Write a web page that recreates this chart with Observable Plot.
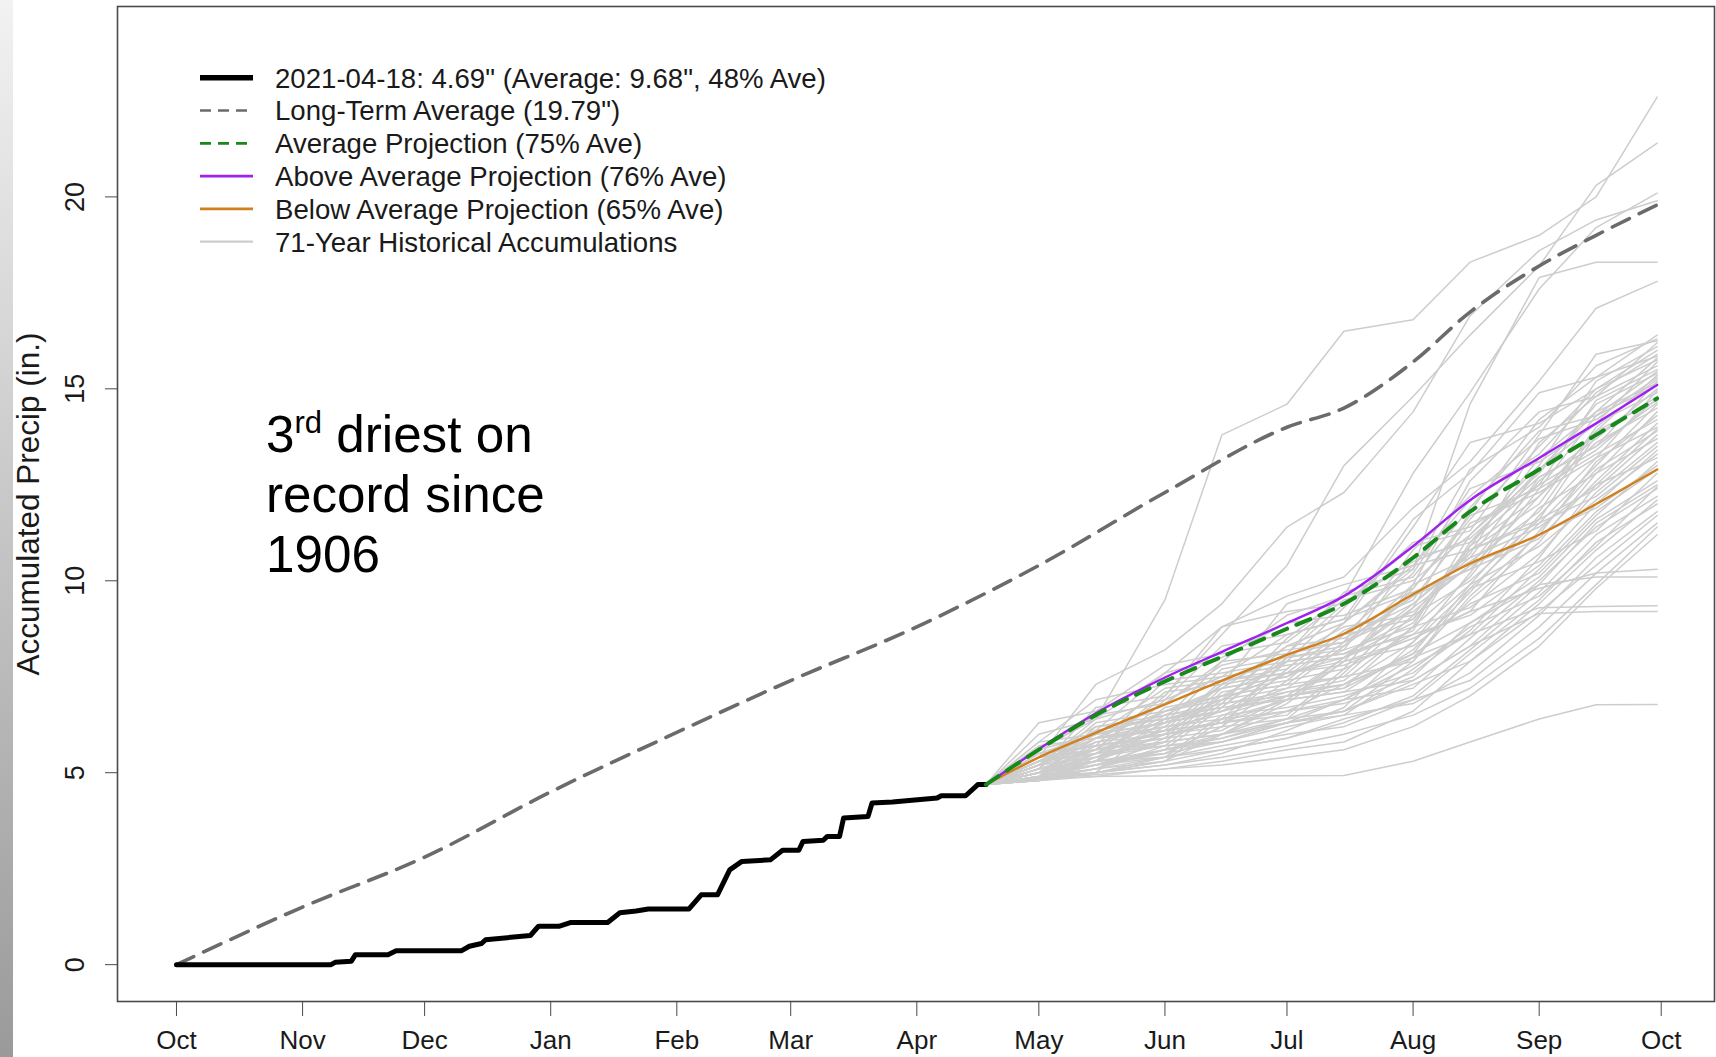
<!DOCTYPE html>
<html><head><meta charset="utf-8">
<script src="https://cdn.jsdelivr.net/npm/d3@7"></script>
<script src="https://cdn.jsdelivr.net/npm/@observablehq/plot@0.6"></script>
<style>
body{margin:0;background:#fff;}
#wrap{position:relative;width:1716px;height:1057px;overflow:hidden;background:#fff;}
#chart{position:absolute;left:0;top:0;}
#strip{position:absolute;left:0;top:0;width:13px;height:1057px;background:linear-gradient(to bottom,#f2f2f2,#9a9a9a);}
</style></head><body>
<div id="wrap"><div id="chart"></div><div id="strip"></div></div>
<script>
// ---------- data ----------
const monthTicks = ["2020-10-01","2020-11-01","2020-12-01","2021-01-01","2021-02-01","2021-03-01","2021-04-01","2021-05-01","2021-06-01","2021-07-01","2021-08-01","2021-09-01","2021-10-01"];
const monthLabels = ["Oct","Nov","Dec","Jan","Feb","Mar","Apr","May","Jun","Jul","Aug","Sep","Oct"];
const yTicks = [0,5,10,15,20];

// current water year (2020-10-01 .. 2021-04-18)
const currentDates = ["2020-10-01","2020-11-08","2020-11-09","2020-11-13","2020-11-14","2020-11-22","2020-11-24","2020-12-10","2020-12-12","2020-12-15","2020-12-16","2020-12-27","2020-12-29","2021-01-03","2021-01-06","2021-01-15","2021-01-18","2021-01-22","2021-01-25","2021-02-04","2021-02-07","2021-02-11","2021-02-14","2021-02-17","2021-02-24","2021-02-27","2021-03-03","2021-03-04","2021-03-09","2021-03-10","2021-03-13","2021-03-14","2021-03-20","2021-03-21","2021-03-26","2021-04-06","2021-04-07","2021-04-13","2021-04-16","2021-04-18"];
const currentValues = [0,0,0.06,0.09,0.26,0.26,0.36,0.36,0.48,0.55,0.65,0.76,1.0,1.0,1.1,1.1,1.35,1.4,1.45,1.45,1.82,1.82,2.47,2.69,2.73,2.98,2.98,3.21,3.24,3.34,3.34,3.82,3.86,4.21,4.24,4.34,4.40,4.40,4.69,4.69];

// long-term average
const avgDates = ["2020-10-01","2020-11-01","2020-12-01","2021-01-01","2021-02-01","2021-03-01","2021-04-01","2021-04-18","2021-05-01","2021-06-01","2021-07-01","2021-07-15","2021-08-01","2021-08-15","2021-09-01","2021-09-15","2021-09-30"];
const avgValues = [0,1.5,2.8,4.5,6.05,7.4,8.8,9.68,10.4,12.3,14.0,14.5,15.7,17.0,18.2,19.0,19.79];

// projections from 2021-04-18
const projDates = ["2021-04-18","2021-05-01","2021-05-15","2021-06-01","2021-06-15","2021-07-01","2021-07-15","2021-08-01","2021-08-15","2021-09-01","2021-09-15","2021-09-30"];
const aboveValues   = [4.69,5.62,6.55,7.48,8.15,8.9,9.6,10.9,12.1,13.2,14.1,15.1];
const avgProjValues = [4.69,5.60,6.50,7.38,8.02,8.75,9.4,10.6,11.8,12.9,13.8,14.75];
const belowValues   = [4.69,5.40,6.04,6.78,7.40,8.07,8.62,9.65,10.45,11.2,12.0,12.9];

// 71 historical accumulations, starting from today's value
const historicalStart = 4.69;
const historicalDates = ["2021-05-01","2021-05-15","2021-06-01","2021-06-15","2021-07-01","2021-07-15","2021-08-01","2021-08-15","2021-09-01","2021-09-15","2021-09-30"];
const historicalValues = [
[5.6,6.4,9.5,13.8,14.6,16.5,16.8,18.3,19.0,20.0,22.6],
[5.1,5.6,7.0,8.6,10.4,13.0,14.8,16.4,18.2,20.3,21.4],
[5.0,5.9,6.8,7.9,9.1,9.6,12.8,14.9,17.6,19.2,20.1],
[5.4,7.3,8.2,9.4,11.4,12.3,14.4,16.9,18.6,19.4,19.9],
[4.9,5.5,6.5,7.2,8.3,8.9,10.3,14.6,17.9,18.3,18.3],
[5.2,6.1,7.6,8.8,9.6,10.1,11.9,13.1,15.2,17.1,17.8],
[5.8,6.9,7.3,7.5,8.6,9.0,11.6,12.8,14.9,15.3,16.4],
[4.8,5.0,6.4,7.9,8.1,9.7,10.3,12.9,14.0,15.6,16.3],
[5.1,6.7,7.0,8.8,9.2,9.4,10.9,11.3,13.8,15.9,16.25],
[4.9,5.3,5.5,6.2,8.0,8.3,9.9,12.6,14.4,14.8,16.2],
[6.3,6.6,7.8,8.1,8.4,9.5,10.0,11.2,13.0,15.2,16.1],
[5.0,5.9,6.1,7.4,7.7,8.9,11.4,13.6,14.1,15.0,16.0],
[5.4,5.6,7.1,7.3,9.4,9.9,10.4,12.1,13.3,14.9,15.9],
[4.8,5.4,6.0,6.3,6.9,8.0,9.3,11.8,14.2,15.3,15.85],
[5.5,6.0,6.3,7.7,8.0,8.2,10.6,11.0,12.9,14.4,15.8],
[5.2,6.4,7.6,8.0,8.9,9.1,9.8,11.6,13.5,15.0,15.75],
[4.9,5.1,5.9,7.2,7.5,8.6,10.2,12.4,13.1,14.1,15.7],
[5.7,5.9,6.6,6.9,8.3,8.5,9.4,10.7,13.6,14.8,15.6],
[5.0,5.7,7.4,7.6,7.9,9.3,11.0,11.4,12.5,14.7,15.5],
[5.3,6.1,6.4,6.8,8.5,9.6,10.1,11.9,13.9,14.3,15.45],
[4.85,5.2,5.4,6.5,7.0,7.2,8.8,11.2,12.8,14.6,15.4],
[6.0,6.4,6.9,8.3,8.6,9.0,9.7,10.3,12.2,13.9,15.35],
[5.1,5.3,6.7,7.0,7.3,8.4,10.8,12.2,13.7,14.2,15.3],
[4.9,5.8,6.2,6.4,7.9,8.1,9.0,10.8,12.0,14.0,15.25],
[5.4,5.7,6.0,7.3,8.1,9.4,10.5,11.1,12.7,13.5,15.2],
[5.2,6.0,7.2,7.4,7.6,8.0,8.9,10.9,13.2,14.4,15.15],
[4.8,5.0,5.3,6.0,6.8,7.9,9.8,11.7,12.4,14.3,15.1],
[5.6,6.5,6.8,7.8,8.2,8.4,9.2,10.4,12.6,13.7,15.0],
[5.0,5.4,6.3,6.6,7.6,8.7,9.5,11.5,12.3,13.2,14.95],
[5.3,5.5,5.8,7.1,7.4,7.7,9.9,10.6,12.9,14.1,14.9],
[4.9,6.2,6.5,6.7,8.0,8.8,9.1,10.0,11.6,13.8,14.8],
[5.1,5.3,6.9,7.5,7.8,8.0,8.7,11.0,12.5,13.4,14.75],
[5.8,6.0,6.3,6.6,7.2,8.3,9.6,10.5,11.8,13.9,14.7],
[4.85,5.1,5.7,6.8,7.1,7.3,8.4,10.2,12.7,13.5,14.65],
[5.2,5.9,6.1,6.3,7.7,8.9,10.4,10.8,11.5,13.0,14.6],
[5.0,5.6,6.6,7.0,7.3,7.5,9.1,10.9,12.2,13.6,14.5],
[5.5,5.7,6.0,7.0,7.9,8.1,8.6,9.9,11.9,12.8,14.4],
[4.9,5.2,5.6,5.9,6.4,7.6,9.3,10.4,11.2,13.1,14.3],
[5.1,6.3,6.6,7.2,7.5,8.2,8.8,10.1,12.4,13.3,14.2],
[5.3,5.5,6.4,6.7,8.1,8.4,9.6,10.3,11.1,12.6,14.1],
[4.8,5.1,5.3,6.4,6.9,7.1,8.2,9.7,11.7,13.2,14.0],
[5.6,6.0,6.5,6.8,7.0,8.0,9.4,10.6,11.4,12.5,13.95],
[5.0,5.3,6.2,7.3,7.6,7.8,8.5,9.2,11.3,12.9,13.9],
[5.2,5.8,6.0,6.2,7.4,8.6,9.0,10.8,11.6,12.4,13.8],
[4.9,5.0,5.4,6.0,6.6,6.9,8.0,9.5,11.0,12.8,13.7],
[5.4,6.2,6.4,6.6,7.1,7.4,8.8,9.3,10.7,12.3,13.6],
[5.1,5.4,5.8,6.9,7.2,7.5,7.9,9.8,11.5,12.2,13.5],
[4.85,5.3,6.0,6.3,6.5,7.7,8.6,9.1,10.4,12.0,13.4],
[5.3,5.6,5.9,6.1,7.0,7.2,8.1,9.9,10.9,12.1,13.3],
[5.0,5.9,6.2,6.5,6.7,7.0,7.6,8.7,10.6,12.5,13.2],
[4.9,5.1,5.6,6.7,6.9,7.9,8.3,9.4,10.2,11.7,13.1],
[5.2,5.4,5.7,5.9,6.3,6.6,7.9,9.6,11.2,11.9,13.0],
[5.0,5.7,5.9,6.4,6.6,7.3,8.0,8.6,10.3,11.8,12.9],
[4.8,5.0,5.2,5.5,6.1,6.7,8.4,9.8,10.5,11.3,12.8],
[5.4,5.6,6.1,6.3,6.6,6.8,7.5,8.9,10.1,11.6,12.6],
[5.0,5.2,5.8,6.0,6.9,7.1,7.4,8.3,9.9,11.5,12.5],
[4.9,5.5,5.7,5.8,6.2,6.5,7.7,8.8,9.6,10.9,12.45],
[5.1,5.3,5.5,6.2,6.4,6.9,7.2,8.5,10.0,11.4,12.4],
[4.85,5.0,5.3,5.6,5.9,6.3,7.0,8.2,9.7,11.2,12.2],
[5.2,5.6,5.8,6.0,6.4,6.6,7.3,7.9,9.4,10.8,12.1],
[4.9,5.1,5.4,5.7,6.0,6.2,6.9,8.1,9.5,11.0,12.0],
[5.0,5.2,5.6,5.8,6.3,6.5,6.8,7.6,9.1,10.6,11.8],
[4.8,4.9,5.1,5.3,5.6,5.8,6.6,7.9,9.2,10.4,11.7],
[5.1,5.3,5.4,5.6,5.9,6.4,6.9,7.4,8.8,10.2,11.5],
[4.9,5.0,5.2,5.4,5.7,6.0,6.5,7.2,8.5,9.9,11.4],
[4.85,4.95,5.1,5.2,5.4,5.6,6.2,7.0,8.3,9.8,11.2],
[5.3,5.9,6.3,6.9,7.6,7.9,8.5,9.2,9.8,10.2,10.3],
[5.1,5.5,6.1,6.6,7.0,7.3,8.1,8.9,9.9,10.1,10.1],
[4.9,5.2,5.5,5.8,6.3,6.9,7.8,8.6,9.3,9.33,9.35],
[5.0,5.3,5.6,6.0,6.3,6.6,7.4,8.3,9.15,9.2,9.2],
[4.85,4.9,4.92,4.92,4.92,4.93,5.3,5.8,6.4,6.77,6.78]
];

const legendLabels = [
  "2021-04-18: 4.69\" (Average: 9.68\", 48% Ave)",
  "Long-Term Average (19.79\")",
  "Average Projection (75% Ave)",
  "Above Average Projection (76% Ave)",
  "Below Average Projection (65% Ave)",
  "71-Year Historical Accumulations"
];
const noteLines = ["driest on", "record since", "1906"];

// ---------- build tables ----------
const D = s => new Date(s + "T00:00:00Z");
const pairs = (dates, vals) => dates.map((d, i) => ({date: D(d), value: vals[i]}));
const current = pairs(currentDates, currentValues);
const average = pairs(avgDates, avgValues);
const above = pairs(projDates, aboveValues);
const avgProj = pairs(projDates, avgProjValues);
const below = pairs(projDates, belowValues);
const hist = [];
historicalValues.forEach((vals, s) => {
  hist.push({s, date: D(projDates[0]), value: historicalStart});
  vals.forEach((v, j) => hist.push({s, date: D(historicalDates[j]), value: v}));
});
const tickDates = monthTicks.map(D);
const labelOf = new Map(tickDates.map((d, i) => [d.getTime(), monthLabels[i]]));

const FONT = "'Liberation Sans', Arial, Helvetica, sans-serif";
const COL = {black: "#000", avg: "#6b6b6b", green: "#16891a", purple: "#a020f0", orange: "#d0801c", grey: "#cdcdcd"};

const chart = Plot.plot({
  width: 1716, height: 1057,
  marginLeft: 117, marginRight: 2, marginTop: 6, marginBottom: 56,
  style: {fontFamily: FONT, fontSize: "26px", color: "#1a1a1a", background: "transparent", overflow: "visible"},
  x: {type: "utc", domain: [new Date("2020-09-16T12:00:00Z"), new Date("2021-10-14T02:24:00Z")]},
  y: {domain: [-0.96, 24.96]},
  marks: [
    Plot.line(hist, {x: "date", y: "value", z: "s", stroke: COL.grey, strokeWidth: 1.5}),
    Plot.line(average, {x: "date", y: "value", stroke: COL.avg, strokeWidth: 3.6, strokeDasharray: "19,11", curve: "monotone-x"}),
    Plot.line(current, {x: "date", y: "value", stroke: COL.black, strokeWidth: 5}),
    Plot.line(below, {x: "date", y: "value", stroke: COL.orange, strokeWidth: 2.4, curve: "monotone-x"}),
    Plot.line(above, {x: "date", y: "value", stroke: COL.purple, strokeWidth: 2.4, curve: "monotone-x"}),
    Plot.line(avgProj, {x: "date", y: "value", stroke: COL.green, strokeWidth: 4, strokeDasharray: "15,10", curve: "monotone-x"}),
    Plot.frame({stroke: "#4a4a4a", strokeWidth: 1.6}),
    Plot.axisX({ticks: tickDates, tickFormat: d => labelOf.get(d.getTime()), tickSize: 15, tickPadding: 14, fontSize: 26, label: null, stroke: "#4a4a4a"}),
    Plot.axisY({ticks: yTicks, tickSize: 12, tickFormat: () => "", label: null, stroke: "#4a4a4a"}),
    Plot.text(yTicks, {y: d => d, frameAnchor: "left", dx: -42, rotate: -90, textAnchor: "middle", text: d => String(d), fontSize: 27, fill: "#1a1a1a"}),
    Plot.text(["Accumulated Precip (in.)"], {frameAnchor: "left", dx: -89, rotate: -90, textAnchor: "middle", text: d => d, fontSize: 31.5, fill: "#1a1a1a"})
  ]
});
document.getElementById("chart").appendChild(chart);

// ---------- legend ----------
const svg = d3.select(chart);
const legendStyles = [
  {color: COL.black, width: 5.5, dash: null},
  {color: COL.avg, width: 2.7, dash: "11,7"},
  {color: COL.green, width: 2.7, dash: "11,7"},
  {color: COL.purple, width: 2.7, dash: null},
  {color: COL.orange, width: 2.7, dash: null},
  {color: COL.grey, width: 2.2, dash: null}
];
const lg = svg.append("g").attr("font-family", FONT).attr("font-size", 27.6).attr("fill", "#1a1a1a").attr("text-anchor", "start");
legendLabels.forEach((lab, i) => {
  const y = 77.7 + i * 32.8;
  const st = legendStyles[i];
  lg.append("line").attr("x1", 200).attr("x2", 253).attr("y1", y).attr("y2", y)
    .attr("stroke", st.color).attr("stroke-width", st.width).attr("stroke-dasharray", st.dash);
  lg.append("text").attr("x", 275).attr("y", y).attr("dy", "0.36em").text(lab);
});

// ---------- annotation ----------
const note = svg.append("text").attr("font-family", FONT).attr("font-size", 51.2).attr("fill", "#000").attr("text-anchor", "start");
const l1 = note.append("tspan").attr("x", 266).attr("y", 452);
l1.append("tspan").text("3");
l1.append("tspan").attr("font-size", 31).attr("dy", -19).text("rd");
l1.append("tspan").attr("dy", 19).text(" " + noteLines[0]);
note.append("tspan").attr("x", 266).attr("y", 512).text(noteLines[1]);
note.append("tspan").attr("x", 266).attr("y", 572).text(noteLines[2]);
</script>
</body></html>
